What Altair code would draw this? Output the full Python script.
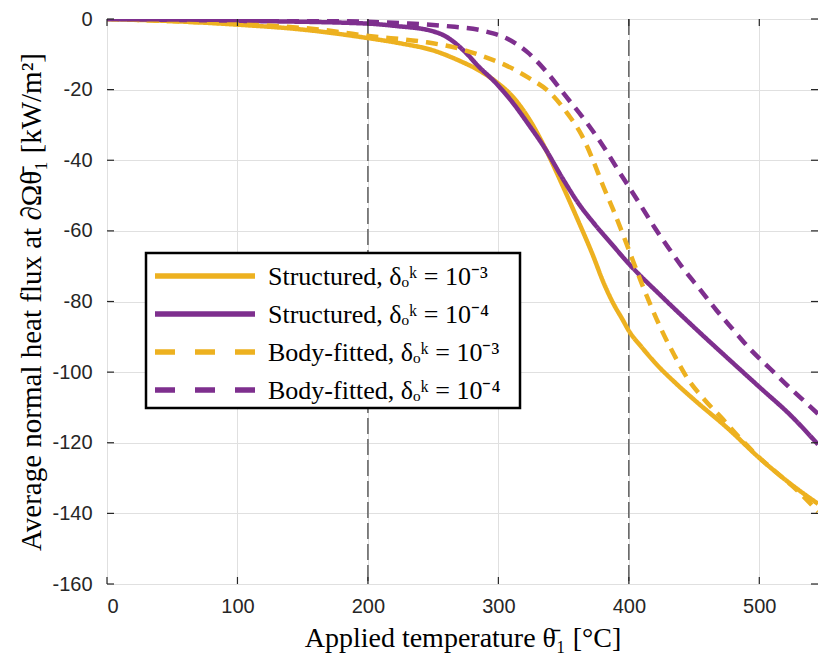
import altair as alt
import pandas as pd

# ---------------- data ----------------
x_ticks = [0, 100, 200, 300, 400, 500]
y_ticks = [0, -20, -40, -60, -80, -100, -120, -140, -160]
vlines = [200, 400]

names = [
    "Structured, δₒᵏ = 10⁻³",
    "Structured, δₒᵏ = 10⁻⁴",
    "Body-fitted, δₒᵏ = 10⁻³",
    "Body-fitted, δₒᵏ = 10⁻⁴",
]
colors = ["#EDB120", "#7E2F8E", "#EDB120", "#7E2F8E"]
dashes = [[1, 0], [1, 0], [12, 8], [12, 8]]
legend_dashes = [[1, 0], [1, 0], [20, 20], [20, 20]]

# Structured, 1e-3 (solid yellow)
s3_x = [0, 50, 100, 150, 200, 225, 250, 270, 285, 298, 311, 323, 336, 349, 361, 372, 381,
        388, 395, 400, 410, 420, 437, 450, 477, 500, 520, 545]
s3_y = [0, -0.6, -1.6, -3.0, -5.4, -6.9, -8.9, -11.8, -14.5, -17.7, -22, -28, -36.7, -47,
        -57, -66.5, -75, -80.5, -85, -88.3, -93, -97.3, -103.5, -107.8, -116.3, -124.3,
        -130.5, -137.3]

# Structured, 1e-4 (solid purple)
s4_x = [0, 100, 200, 222, 248, 260, 273, 285, 298, 311, 323, 336, 349, 361, 374, 387, 400,
        425, 450, 475, 500, 525, 545]
s4_y = [0, -0.5, -1.3, -2.0, -3.3, -5.0, -8.8, -13.5, -18.1, -23.7, -29.8, -36.8, -45,
        -52, -58.2, -63.8, -69.3, -78.5, -87.3, -95.8, -104.2, -112.6, -120.5]

# Body-fitted, 1e-3 (dashed yellow)
b3_x = [0, 50, 100, 125, 168, 188, 208, 228, 245, 270, 290, 305, 323, 340, 353, 364, 372,
        380, 388, 396, 403, 410, 417, 425, 435, 445, 458, 472, 485, 500, 516, 530, 545]
b3_y = [0, -0.6, -1.4, -1.9, -3.2, -4.2, -5.1, -5.8, -6.6, -8.4, -10.8, -13, -16.6, -21,
        -26.8, -33, -39.5, -47, -54, -61.5, -68.3, -75, -81.3, -88, -95.3, -101.8, -107.8,
        -113.3, -118.6, -124.2, -129.3, -133.8, -139.5]

# Body-fitted, 1e-4 (dashed purple)
b4_x = [0, 100, 200, 226, 260, 289, 307, 322, 337, 352, 366, 380, 393, 400, 410, 420, 430,
        442, 455, 467, 480, 493, 508, 523, 538, 545]
b4_y = [0, -0.3, -0.8, -1.2, -2.0, -3.4, -5.6, -9.3, -15, -22, -28.5, -35.8, -43.5, -47.5,
        -53.3, -59.2, -64.6, -70.8, -76.8, -82.4, -88, -93.5, -98.9, -104.3, -109.4, -111.8]

series_x = [s3_x, s4_x, b3_x, b4_x]
series_y = [s3_y, s4_y, b3_y, b4_y]

rows = []
for i, (xs, ys) in enumerate(zip(series_x, series_y)):
    for xv, yv in zip(xs, ys):
        rows.append({"t": xv, "q": yv, "series": names[i], "k": i})
df = pd.DataFrame(rows)

W, H = 711, 565
TOP = 11
XDOM = [0, 545]
YDOM = [-160, 0]

xscale = alt.Scale(domain=XDOM, nice=False, zero=False)
yscale = alt.Scale(domain=YDOM, nice=False, zero=False)

label_font = "Liberation Sans"
title_font = "Liberation Serif"

x_axis = alt.Axis(
    values=x_ticks, grid=True, gridColor="#e0e0e0", gridWidth=1,
    tickSize=0, domain=False, labelFont=label_font, labelFontSize=20,
    labelColor="#262626", labelPadding=12, labelExpr="'' + datum.value",
    title="Applied temperature θ̄₁  [°C]", titleFont=title_font, titleFontSize=28,
    titleFontWeight="normal", titleColor="#000000", titlePadding=8,
)
y_axis = alt.Axis(
    values=y_ticks, grid=True, gridColor="#e0e0e0", gridWidth=1,
    tickSize=0, domain=False, labelFont=label_font, labelFontSize=20,
    labelColor="#262626", labelPadding=15, labelExpr="'' + datum.value",
    title="Average normal heat flux at ∂Ωθ̄₁  [kW/m²]", titleFont=title_font,
    titleFontSize=29, titleFontWeight="normal", titleColor="#000000", titlePadding=5,
)

vrules = alt.Chart(pd.DataFrame({"v": vlines})).mark_rule(
    color="#555555", strokeWidth=1.4, strokeDash=[16, 5]
).encode(
    x=alt.X("v:Q", scale=xscale, axis=x_axis),
)

lines = alt.Chart(df).mark_line(strokeWidth=4.5, clip=True, interpolate="monotone").encode(
    x=alt.X("t:Q", scale=xscale, axis=x_axis),
    y=alt.Y("q:Q", scale=yscale, axis=y_axis),
    color=alt.Color("series:N", scale=alt.Scale(domain=names, range=colors), legend=None),
    strokeDash=alt.StrokeDash("series:N", scale=alt.Scale(domain=names, range=dashes),
                              legend=None),
    order="k:Q",
)

tick_col = "#262626"
tick_len = 7
xt = pd.DataFrame({"v": x_ticks})
yt = pd.DataFrame({"v": y_ticks})
bottom_ticks = alt.Chart(xt).mark_rule(color=tick_col, strokeWidth=1.2).encode(
    x=alt.X("v:Q", scale=xscale), y=alt.value(H), y2=alt.value(H - tick_len))
top_ticks = alt.Chart(xt).mark_rule(color=tick_col, strokeWidth=1.2).encode(
    x=alt.X("v:Q", scale=xscale), y=alt.value(0), y2=alt.value(tick_len))
left_ticks = alt.Chart(yt).mark_rule(color=tick_col, strokeWidth=1.2).encode(
    y=alt.Y("v:Q", scale=yscale), x=alt.value(0), x2=alt.value(tick_len))
right_ticks = alt.Chart(yt).mark_rule(color=tick_col, strokeWidth=1.2).encode(
    y=alt.Y("v:Q", scale=yscale), x=alt.value(W), x2=alt.value(W - tick_len))

# ---------------- legend (drawn as a box of samples and labels) ----------------
LX0, LX1, LY0, LY1 = 39, 413, 234, 389
row_y = [257, 295, 333, 371]
legend_box = alt.Chart(pd.DataFrame({"a": [0]})).mark_rect(
    fill="white", stroke="#000000", strokeWidth=2.5
).encode(x=alt.value(LX0), x2=alt.value(LX1), y=alt.value(LY0), y2=alt.value(LY1))

legend_layers = [legend_box]
for i in range(4):
    d = pd.DataFrame({"label": [names[i]]})
    legend_layers.append(
        alt.Chart(d).mark_rule(color=colors[i], strokeWidth=5.5, strokeDash=legend_dashes[i])
        .encode(x=alt.value(48), x2=alt.value(148), y=alt.value(row_y[i]))
    )
    legend_layers.append(
        alt.Chart(d).mark_text(align="left", baseline="middle", font=title_font,
                               fontSize=26, color="#000000")
        .encode(x=alt.value(161), y=alt.value(row_y[i] + 1), text="label:N")
    )

chart = alt.layer(
    vrules, lines, bottom_ticks, top_ticks, left_ticks, right_ticks, *legend_layers
).properties(
    width=W, height=H,
    autosize=alt.AutoSizeParams(type="none"),
    padding={"left": 99, "top": TOP, "right": 0, "bottom": 71},
).configure_view(
    stroke="#262626", strokeWidth=1.3
).configure(background="white")

chart.save("out.html", embed_options={"renderer": "svg", "actions": False})
